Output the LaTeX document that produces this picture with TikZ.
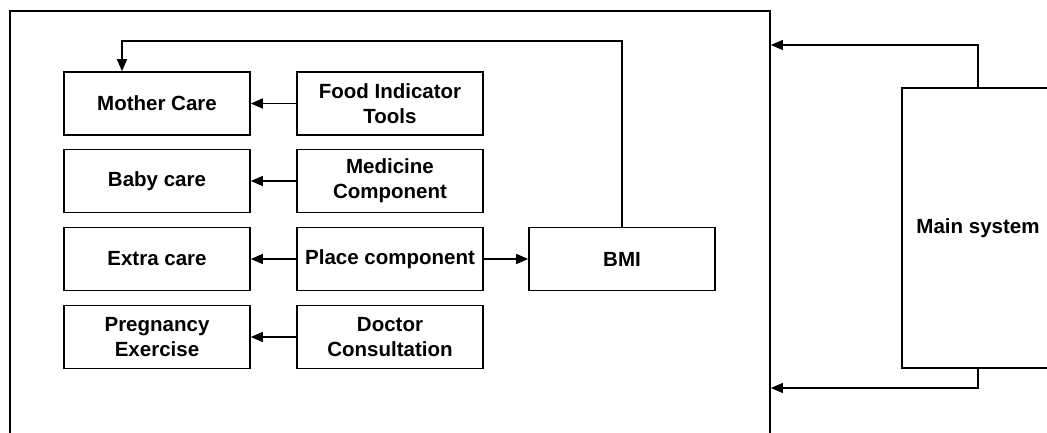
\documentclass[tikz,border=0pt]{standalone}
\usepackage{fontspec}
\setmainfont{Liberation Sans}
\usepackage{tikz}
\usetikzlibrary{arrows.meta, calc}

\tikzset{
  carebox/.style={draw, line width=1.6pt, minimum width=186pt, minimum height=63pt, align=center, inner sep=3pt, font=\fontsize{20.5}{25}\selectfont\bfseries},
  link/.style={-{Triangle[length=12pt, width=10pt]}, line width=1.4pt}
}

\begin{document}
\begin{tikzpicture}[x=1pt, y=-1pt]
  \useasboundingbox (0,0) rectangle (1047,433);

  % Outer frame
  \node[draw, line width=1.7pt, minimum width=760pt, minimum height=460pt, inner sep=0pt] (frame) at (390, 241) {};

  % Care modules
  \node[carebox] (mother) at (157, 103.5) {Mother Care};
  \node[carebox] (baby) at (157, 181) {Baby care};
  \node[carebox] (extra) at (157, 259) {Extra care};
  \node[carebox] (pregnancy) at (157, 337) {Pregnancy\\Exercise};

  % Components
  \node[carebox] (food) at (390, 103.5) {Food Indicator\\Tools};
  \node[carebox] (medicine) at (390, 181) {Medicine\\Component};
  \node[carebox] (place) at (390, 259) {Place component};
  \node[carebox] (doctor) at (390, 337) {Doctor\\Consultation};

  \node[carebox] (bmi) at (622, 259) {BMI};

  % Main system
  \node[carebox, minimum width=152pt, minimum height=280pt] (main) at (978, 228) {Main system};

  \draw[link] (food) -- (mother);
  \draw[link] (medicine) -- (baby);
  \draw[link] (place) -- (extra);
  \draw[link] (doctor) -- (pregnancy);
  \draw[link] (place) -- (bmi);

  % BMI feedback
  \coordinate (loop) at (122, 41);
  \draw[link] (bmi.north) |- (loop) -- (mother.north -| loop);

  % Main system links
  \coordinate (maintop) at (978, 45);
  \coordinate (mainbot) at (978, 388);
  \draw[link] (main.north) -- (maintop) -- (maintop -| frame.east);
  \draw[link] (main.south) -- (mainbot) -- (mainbot -| frame.east);
\end{tikzpicture}
\end{document}
